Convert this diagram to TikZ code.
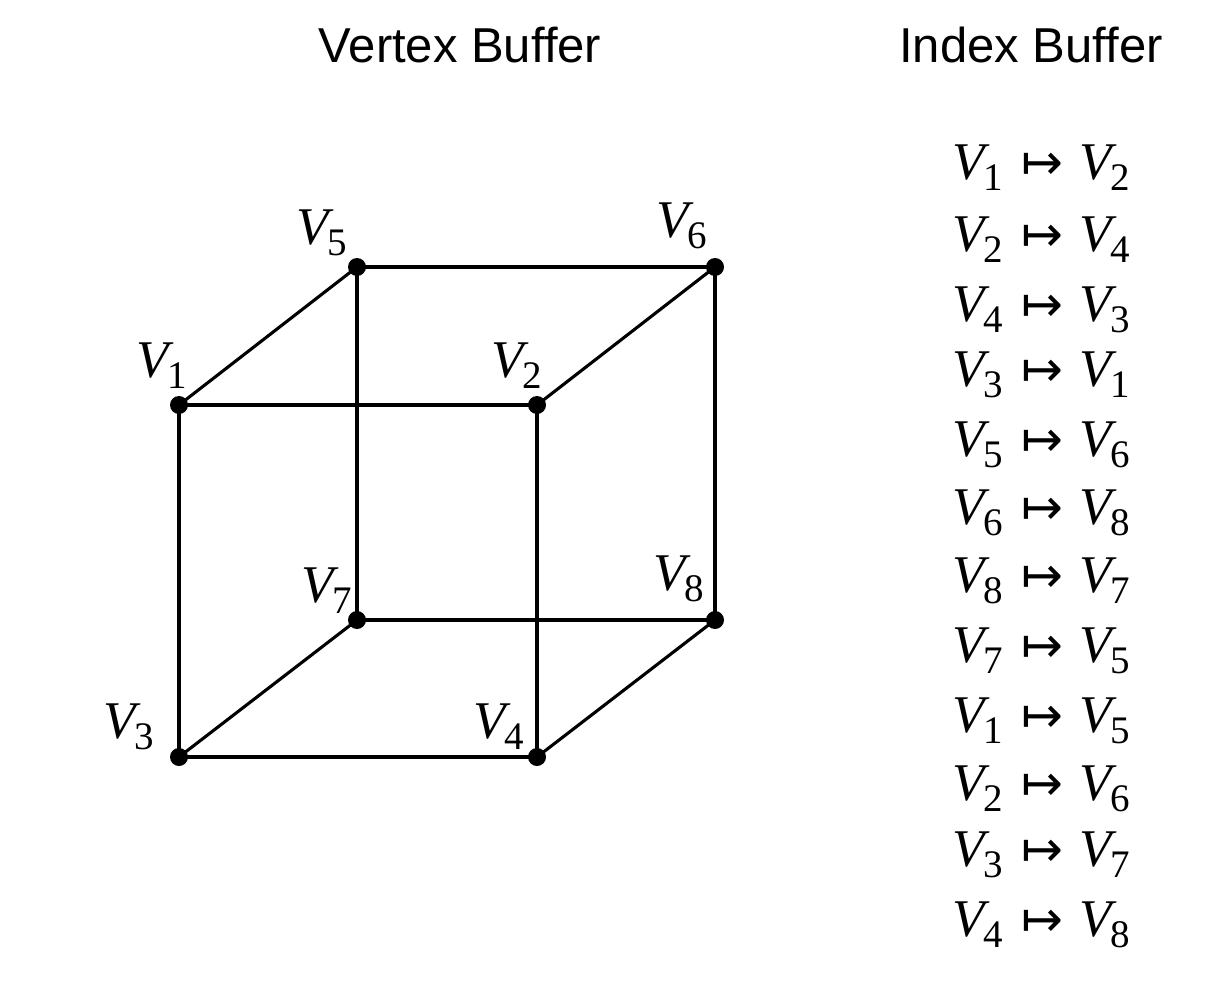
\documentclass[tikz,border=0pt]{standalone}
\usepackage{fontspec}
\setsansfont{Liberation Sans}
\newfontfamily\vserif{Liberation Serif}
\newfontfamily\arrowfont{DejaVu Sans}
\newcommand\Vsub[1]{{\itshape V}\kern-1.5pt\raisebox{-11pt}{\fontsize{39}{39}\selectfont #1}}
\newcommand\Maprow[2]{\Vsub{#1}\kern19pt{\arrowfont\fontsize{50}{50}\selectfont ↦}\kern16pt\Vsub{#2}}
\begin{document}
\begin{tikzpicture}[x=1pt,y=-1pt,
  title/.style={font=\sffamily\fontsize{49}{58}\selectfont, anchor=base, inner sep=0pt},
  vlab/.style={font=\vserif\fontsize{53}{60}\selectfont, inner sep=0pt, anchor=base west},
  row/.style={font=\vserif\fontsize{53}{60}\selectfont, inner sep=0pt, anchor=base west},
  edge/.style={line width=3.1pt, line cap=round},
  dot/.style={fill=black}]
\useasboundingbox (0,0) rectangle (1231,984);
\fill[white] (0,0) rectangle (1231,984);

\node[title] (t1) at (460,63) {Vertex Buffer};
\node[title] (t2) at (1031,63) {Index Buffer};

\coordinate (v1) at (179,405);
\coordinate (v2) at (537,405);
\coordinate (v3) at (179,757);
\coordinate (v4) at (537,757);
\coordinate (v5) at (357,267);
\coordinate (v6) at (715,267);
\coordinate (v7) at (357,620);
\coordinate (v8) at (715,620);

\draw[edge] (v1) -- (v2);
\draw[edge] (v2) -- (v4);
\draw[edge] (v4) -- (v3);
\draw[edge] (v3) -- (v1);
\draw[edge] (v5) -- (v6);
\draw[edge] (v6) -- (v8);
\draw[edge] (v8) -- (v7);
\draw[edge] (v7) -- (v5);
\draw[edge] (v1) -- (v5);
\draw[edge] (v2) -- (v6);
\draw[edge] (v3) -- (v7);
\draw[edge] (v4) -- (v8);

\foreach \v in {v1,v2,v3,v4,v5,v6,v7,v8}
  \fill[dot] (\v) circle (9);

\node[vlab] (l1) at (136,377) {\Vsub{1}};
\node[vlab] (l2) at (491,377) {\Vsub{2}};
\node[vlab] (l3) at (103,738) {\Vsub{3}};
\node[vlab] (l4) at (473,738) {\Vsub{4}};
\node[vlab] (l5) at (296,245) {\Vsub{5}};
\node[vlab] (l6) at (656,238) {\Vsub{6}};
\node[vlab] (l7) at (301,602) {\Vsub{7}};
\node[vlab] (l8) at (653,590) {\Vsub{8}};

\node[row] (r1) at (952,180) {\Maprow{1}{2}};
\node[row] (r2) at (952,252) {\Maprow{2}{4}};
\node[row] (r3) at (952,321) {\Maprow{4}{3}};
\node[row] (r4) at (952,386) {\Maprow{3}{1}};
\node[row] (r5) at (952,456) {\Maprow{5}{6}};
\node[row] (r6) at (952,524) {\Maprow{6}{8}};
\node[row] (r7) at (952,592) {\Maprow{8}{7}};
\node[row] (r8) at (952,662) {\Maprow{7}{5}};
\node[row] (r9) at (952,732) {\Maprow{1}{5}};
\node[row] (r10) at (952,800) {\Maprow{2}{6}};
\node[row] (r11) at (952,866) {\Maprow{3}{7}};
\node[row] (r12) at (952,936) {\Maprow{4}{8}};
\end{tikzpicture}
\end{document}
